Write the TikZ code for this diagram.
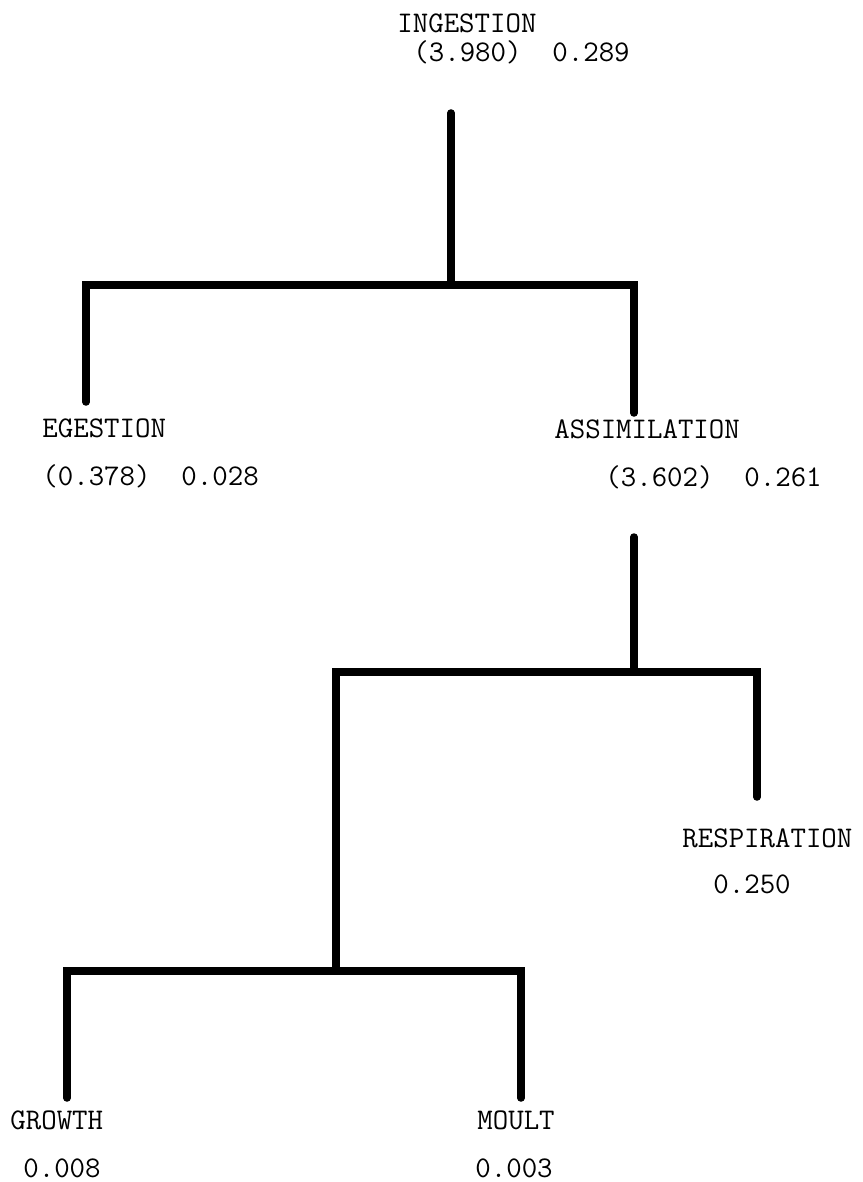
\documentclass[tikz,border=0pt]{standalone}
\usepackage{tikz}

\begin{document}
\begin{tikzpicture}[
    x=0.5pt, y=-0.5pt,
    term/.style={anchor=base west, inner sep=0pt, font=\ttfamily\fontsize{15}{18}\selectfont},
    bar/.style={line width=3.75pt, line cap=round}
]
    \useasboundingbox (0,0) rectangle (862,1182);

    \node[term] (ingestion) at (397,33) {INGESTION};
    \node[term] (ingestionval) at (413,62) {(3.980)~~0.289};
    \node[term] (egestion) at (42,437) {EGESTION};
    \node[term] (egestionval) at (42,485) {(0.378)~~0.028};
    \node[term] (assimilation) at (554,438) {ASSIMILATION};
    \node[term] (assimilationval) at (605,486) {(3.602)~~0.261};
    \node[term] (respiration) at (682,847) {RESPIRATION};
    \node[term] (respirationval) at (713,893) {0.250};
    \node[term] (growth) at (10,1129) {GROWTH};
    \node[term] (growthval) at (23,1177) {0.008};
    \node[term] (moult) at (477,1129) {MOULT};
    \node[term] (moultval) at (475,1177) {0.003};

    \coordinate (ingestiontop) at (451,113);
    \coordinate (split1) at (451,285);
    \coordinate (egestionend) at (86,402);
    \coordinate (assimilationend) at (634,413);
    \draw[bar] (ingestiontop) -- (split1);
    \draw[bar] (egestionend) |- (split1) -| (assimilationend);

    \coordinate (assimilationtop) at (634,537);
    \coordinate (split2) at (634,672);
    \coordinate (respirationend) at (757,797);
    \coordinate (split3) at (336,971);
    \draw[bar] (assimilationtop) -- (split2);
    \draw[bar] (split3) |- (split2) -| (respirationend);

    \coordinate (growthend) at (67,1098);
    \coordinate (moultend) at (521,1098);
    \draw[bar] (growthend) |- (split3) -| (moultend);
\end{tikzpicture}
\end{document}
